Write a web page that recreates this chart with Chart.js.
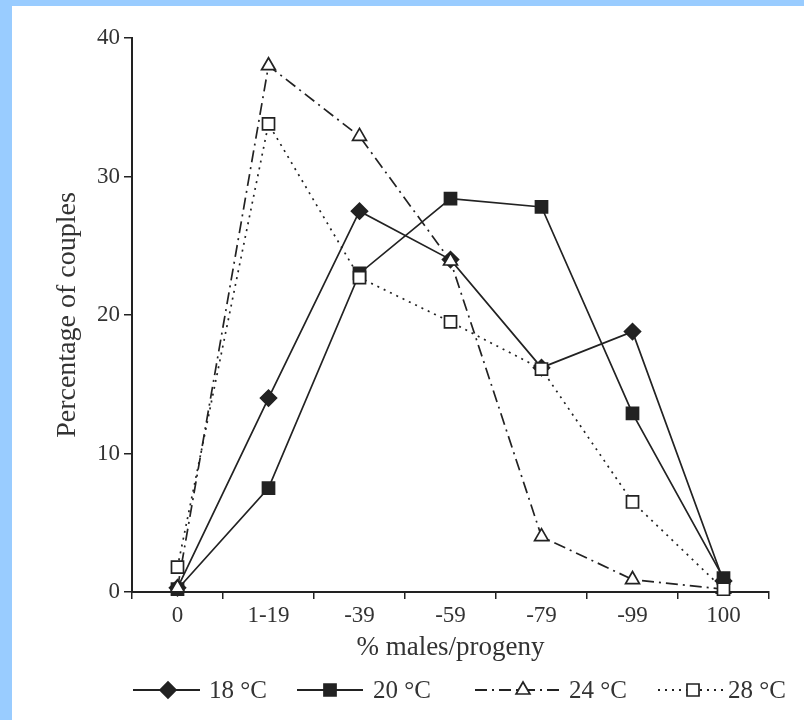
<!DOCTYPE html>
<html>
<head>
<meta charset="utf-8">
<script src="https://cdn.jsdelivr.net/npm/chart.js"></script>
<style>
  html, body { margin: 0; padding: 0; background: #99ccff; }
  #panel { position: absolute; left: 12px; top: 6px; width: 792px; height: 714px; background: #fff; }
  canvas { display: block; }
</style>
</head>
<body>
<div id="panel"><canvas id="chart" width="792" height="714"></canvas></div>
<script>
// valeurs
const categories = ['0', '1-19', '-39', '-59', '-79', '-99', '100'];
const temp18 = [0.3, 14, 27.5, 24, 16.2, 18.8, 0.8];
const temp20 = [0.2, 7.5, 23, 28.4, 27.8, 12.9, 1.0];
const temp24 = [0.3, 38, 32.9, 23.9, 4.0, 0.9, 0.2];
const temp28 = [1.8, 33.8, 22.7, 19.5, 16.1, 6.5, 0.2];
const yTicks = [0, 10, 20, 30, 40];
const seriesNames = ['18 °C', '20 °C', '24 °C', '28 °C'];

const ink = '#222';
const serif = "'Liberation Serif', 'DejaVu Serif', serif";

const ds = (label, data, style, fill, radius, dash, order) => ({
  label, data, order,
  borderColor: ink, borderWidth: 1.7, borderDash: dash,
  pointStyle: style, pointRadius: radius, pointBackgroundColor: fill,
  pointBorderColor: ink, pointBorderWidth: 1.7,
  tension: 0, clip: false, fill: false
});

const datasets = [
  ds(seriesNames[0], temp18, 'rectRot', ink, 8, [], 4),
  ds(seriesNames[1], temp20, 'rect', ink, 8.5, [], 3),
  ds(seriesNames[2], temp24, 'triangle', '#fff', 8, [12, 5, 2, 5], 2),
  ds(seriesNames[3], temp28, 'rect', '#fff', 8.5, [2, 5], 1)
];

// légende dessinée à la main : trait + symbole + texte
const legendItems = [
  { x1: 121, x2: 188, mx: 156, tx: 197 },
  { x1: 285, x2: 351, mx: 318, tx: 361 },
  { x1: 463, x2: 550, mx: 511, tx: 557 },
  { x1: 646, x2: 712, mx: 681, tx: 716 }
];
const legendY = 684;

const legendPlugin = {
  id: 'lineLegend',
  afterDraw(chart) {
    const ctx = chart.ctx;
    ctx.save();
    chart.data.datasets.forEach((d, i) => {
      const it = legendItems[i];
      ctx.strokeStyle = ink;
      ctx.lineWidth = 2.2;
      ctx.setLineDash(d.borderDash);
      ctx.beginPath();
      ctx.moveTo(it.x1, legendY);
      ctx.lineTo(it.x2, legendY);
      ctx.stroke();
      ctx.setLineDash([]);
      ctx.fillStyle = d.pointBackgroundColor;
      ctx.lineWidth = 1.7;
      Chart.helpers.drawPoint(ctx, { pointStyle: d.pointStyle, radius: d.pointRadius, rotation: 0, borderWidth: 1.7 }, it.mx, legendY);
      ctx.fillStyle = '#333';
      ctx.font = '25px ' + serif;
      ctx.textBaseline = 'middle';
      ctx.textAlign = 'left';
      ctx.fillText(d.label, it.tx, legendY + 1);
    });
    ctx.restore();
  }
};

new Chart(document.getElementById('chart'), {
  type: 'line',
  data: { labels: categories, datasets },
  plugins: [legendPlugin],
  options: {
    responsive: false,
    animation: false,
    layout: { padding: { top: 32, right: 35, bottom: 56, left: 0 } },
    plugins: { legend: { display: false }, tooltip: { enabled: false } },
    scales: {
      x: {
        offset: true,
        grid: { offset: true, drawOnChartArea: false, drawTicks: true, tickLength: 7, color: ink, lineWidth: 1.5 },
        border: { color: ink, width: 2 },
        ticks: { color: '#333', font: { family: serif, size: 23 }, padding: 3, maxRotation: 0, autoSkip: false },
        title: { display: true, text: '% males/progeny', color: '#333', font: { family: serif, size: 27 }, padding: { top: 0, bottom: 0 } },
        afterFit: s => { s.height = 72; }
      },
      y: {
        min: 0, max: 40,
        afterBuildTicks: s => { s.ticks = yTicks.map(v => ({ value: v })); },
        grid: { drawOnChartArea: false, drawTicks: true, tickLength: 8, color: ink, lineWidth: 1.5 },
        border: { color: ink, width: 2 },
        ticks: { color: '#333', font: { family: serif, size: 23 }, padding: 4 },
        title: { display: true, text: 'Percentage of couples', color: '#333', font: { family: serif, size: 28 }, padding: { top: 39, bottom: 0 } },
        afterFit: s => { s.width = 120; }
      }
    }
  }
});
</script>
</body>
</html>
